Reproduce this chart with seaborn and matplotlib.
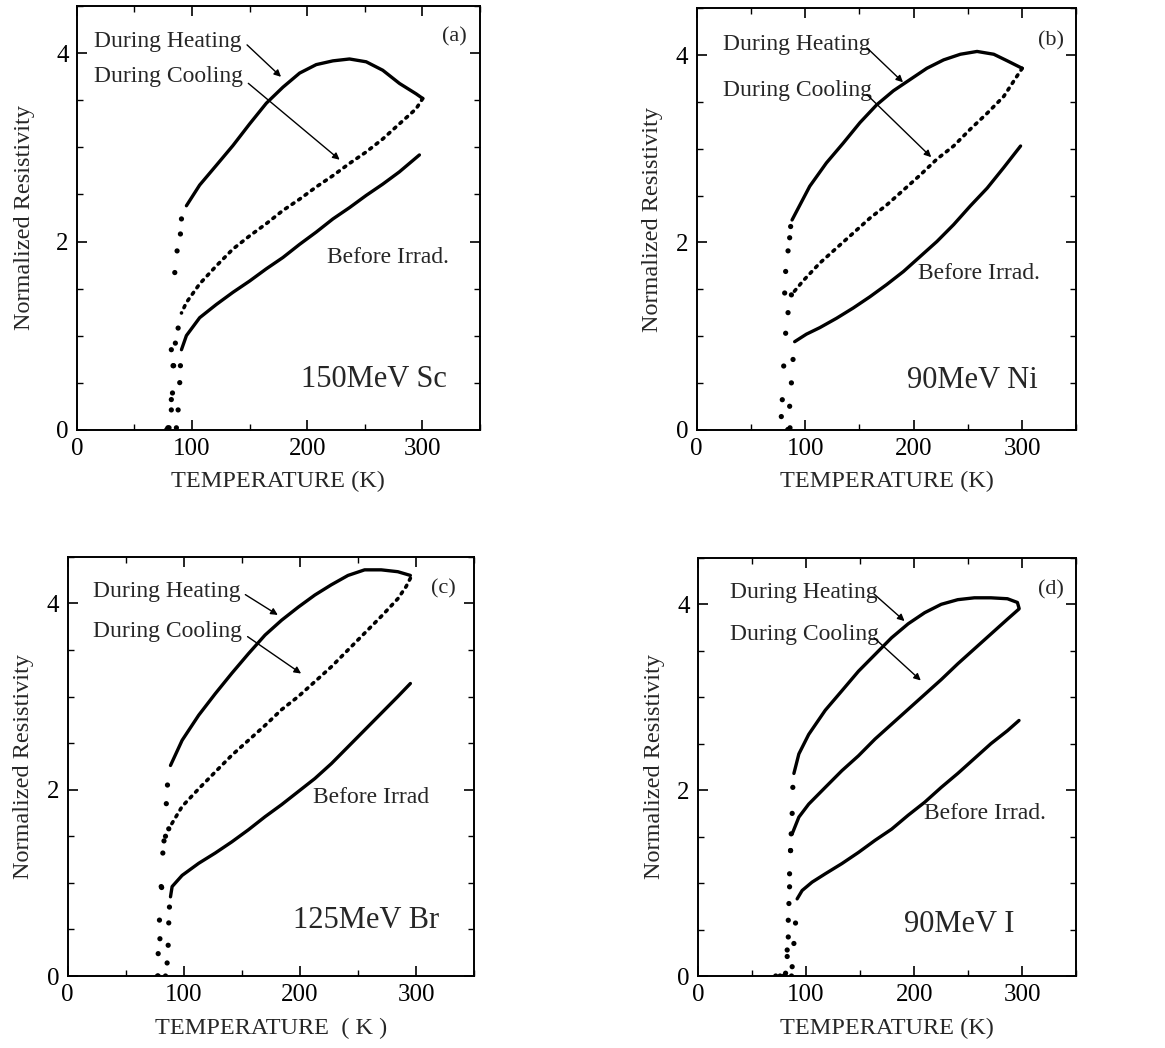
import numpy as np
import pandas as pd
import matplotlib
matplotlib.use("Agg")
import matplotlib.pyplot as plt
from matplotlib.ticker import MultipleLocator
import seaborn as sns

# ---------------- data ----------------
# Panel (a) 150MeV Sc
A_HEAT_T = [95.1, 106.6, 121.1, 135.5, 150.0, 164.5, 178.9, 193.4, 207.8, 222.3, 236.7, 251.2, 265.6, 280.1, 294.5, 300.3]
A_HEAT_R = [2.38, 2.60, 2.81, 3.02, 3.25, 3.47, 3.64, 3.79, 3.88, 3.92, 3.94, 3.91, 3.82, 3.68, 3.57, 3.52]
A_HEAT_TR_T = [78.0, 80.0, 82.0, 83.5, 85.0, 87.0, 89.9, 90.8]
A_HEAT_TR_R = [0.0, 0.02, 0.32, 0.68, 1.67, 1.90, 2.08, 2.24]
A_COOL_T = [300.3, 294.5, 280.0, 265.6, 251.0, 236.7, 222.3, 207.8, 193.4, 178.9, 164.5, 150.0, 135.5, 121.0, 106.6, 95.0, 90.8]
A_COOL_R = [3.52, 3.41, 3.25, 3.09, 2.95, 2.83, 2.70, 2.58, 2.45, 2.33, 2.19, 2.06, 1.92, 1.74, 1.55, 1.35, 1.24]
A_COOL_TR_T = [87.9, 85.5, 82.0, 84.0, 83.0, 82.0, 79.0]
A_COOL_TR_R = [1.08, 0.92, 0.85, 0.68, 0.39, 0.21, 0.02]
A_BEF_T = [297.4, 280.0, 265.6, 251.2, 236.7, 222.3, 207.8, 193.4, 178.9, 164.5, 150.0, 135.5, 121.0, 106.6, 95.1, 90.8]
A_BEF_R = [2.92, 2.74, 2.61, 2.49, 2.36, 2.24, 2.10, 1.97, 1.83, 1.71, 1.58, 1.46, 1.33, 1.19, 1.00, 0.85]
A_BEF_TR_T = [89.9, 89.3, 87.9, 86.4]
A_BEF_TR_R = [0.68, 0.50, 0.21, 0.02]

# Panel (b) 90MeV Ni
B_HEAT_T = [87.9, 104.2, 119.6, 135.0, 150.5, 165.9, 181.3, 196.7, 212.1, 227.6, 243.0, 258.4, 273.8, 286.2, 300.0]
B_HEAT_R = [2.24, 2.60, 2.85, 3.06, 3.28, 3.47, 3.62, 3.74, 3.86, 3.95, 4.01, 4.04, 4.01, 3.94, 3.86]
B_HEAT_TR_T = [84.0, 86.0, 81.1, 82.0, 84.2, 85.7, 86.6]
B_HEAT_TR_R = [0.0, 0.02, 1.46, 1.69, 1.91, 2.05, 2.17]
B_COOL_T = [300.0, 295.4, 283.0, 267.7, 252.2, 236.8, 221.4, 206.0, 190.6, 175.1, 159.7, 144.3, 128.9, 113.5, 98.1, 87.3]
B_COOL_R = [3.86, 3.78, 3.56, 3.38, 3.21, 3.03, 2.89, 2.72, 2.56, 2.40, 2.26, 2.10, 1.94, 1.78, 1.59, 1.44]
B_COOL_TR_T = [87.3, 84.2, 82.0, 80.2, 78.9, 78.0]
B_COOL_TR_R = [1.44, 1.25, 1.03, 0.68, 0.32, 0.14]
B_BEF_T = [298.5, 283.0, 267.7, 252.2, 236.8, 221.4, 206.0, 190.6, 175.1, 159.7, 144.3, 128.9, 113.5, 101.1, 90.3]
B_BEF_R = [3.03, 2.80, 2.58, 2.39, 2.19, 2.01, 1.85, 1.69, 1.55, 1.42, 1.30, 1.19, 1.09, 1.02, 0.94]
B_BEF_TR_T = [88.8, 87.3, 85.7, 84.2]
B_BEF_TR_R = [0.75, 0.50, 0.25, 0.0]

# Panel (c) 125MeV Br
C_HEAT_T = [88.6, 98.6, 112.9, 127.1, 141.4, 155.7, 170.0, 184.3, 198.6, 212.9, 227.1, 241.4, 255.7, 270.0, 284.3, 295.1]
C_HEAT_R = [2.26, 2.53, 2.80, 3.03, 3.25, 3.46, 3.66, 3.82, 3.96, 4.09, 4.20, 4.30, 4.36, 4.36, 4.34, 4.30]
C_HEAT_TR_T = [78.0, 79.5, 81.0, 83.0, 85.0, 86.0]
C_HEAT_TR_R = [0.0, 0.40, 0.95, 1.45, 1.85, 2.05]
C_COOL_T = [295.1, 291.4, 284.3, 270.0, 255.7, 241.4, 227.1, 212.9, 198.6, 184.3, 170.0, 155.7, 141.4, 127.1, 112.9, 98.6, 87.1]
C_COOL_R = [4.27, 4.18, 4.05, 3.86, 3.68, 3.50, 3.32, 3.16, 3.00, 2.86, 2.69, 2.53, 2.37, 2.19, 2.01, 1.82, 1.58]
C_COOL_TR_T = [87.1, 84.3, 82.0, 80.6, 79.1, 78.0, 77.4]
C_COOL_TR_R = [1.58, 1.50, 1.32, 0.96, 0.60, 0.24, 0.0]
C_BEF_T = [295.1, 284.3, 270.0, 255.7, 241.4, 227.1, 212.9, 198.6, 184.3, 170.0, 155.7, 141.4, 127.1, 112.9, 98.6, 90.0, 88.6]
C_BEF_R = [3.14, 3.00, 2.82, 2.64, 2.46, 2.28, 2.12, 1.98, 1.84, 1.71, 1.57, 1.44, 1.32, 1.21, 1.08, 0.96, 0.85]
C_BEF_TR_T = [87.7, 87.1, 86.6, 85.7, 84.3]
C_BEF_TR_R = [0.74, 0.57, 0.33, 0.14, 0.0]

# Panel (d) 90MeV I
D_HEAT_T = [88.8, 93.4, 102.5, 117.8, 133.2, 148.5, 163.8, 179.1, 194.4, 209.7, 225.0, 240.3, 255.6, 270.9, 286.2, 295.4, 296.9]
D_HEAT_R = [2.18, 2.39, 2.60, 2.86, 3.07, 3.28, 3.46, 3.64, 3.79, 3.91, 4.00, 4.05, 4.07, 4.07, 4.06, 4.02, 3.96]
D_HEAT_TR_T = [72.0, 76.0, 81.1, 82.6, 83.6, 84.2, 84.8, 85.7, 86.3, 87.2, 87.8]
D_HEAT_TR_R = [0.0, 0.0, 0.03, 0.21, 0.42, 0.78, 1.10, 1.35, 1.53, 1.75, 2.03]
D_COOL_T = [296.9, 286.2, 270.9, 255.6, 240.3, 225.0, 209.7, 194.4, 179.1, 163.8, 148.5, 133.2, 117.8, 102.5, 93.4, 87.2]
D_COOL_R = [3.95, 3.84, 3.68, 3.52, 3.36, 3.19, 3.03, 2.87, 2.71, 2.55, 2.37, 2.21, 2.03, 1.85, 1.71, 1.53]
D_COOL_TR_T = [85.7, 84.8, 83.6, 82.6, 79.6]
D_COOL_TR_R = [1.35, 0.96, 0.60, 0.28, 0.0]
D_BEF_T = [296.9, 286.2, 270.9, 255.6, 240.3, 225.0, 209.7, 194.4, 179.1, 163.8, 148.5, 133.2, 117.8, 105.6, 96.4, 91.8]
D_BEF_R = [2.75, 2.64, 2.50, 2.34, 2.18, 2.03, 1.87, 1.73, 1.58, 1.46, 1.33, 1.21, 1.10, 1.01, 0.92, 0.83]
D_BEF_TR_T = [90.3, 88.8, 87.2, 86.6]
D_BEF_TR_R = [0.57, 0.35, 0.10, 0.0]

PANEL_LABELS = ["(a)", "(b)", "(c)", "(d)"]
ION_LABELS = ["150MeV Sc", "90MeV Ni", "125MeV Br", "90MeV I"]
BEFORE_LABELS = ["Before Irrad.", "Before Irrad.", "Before Irrad", "Before Irrad."]
XLABELS = ["TEMPERATURE (K)", "TEMPERATURE (K)", "TEMPERATURE  ( K )", "TEMPERATURE (K)"]
YLABEL = "Normalized Resistivity"
X_TICKS = [0, 100, 200, 300]
Y_TICKS = [0, 2, 4]

# ---------------- figure ----------------
sns.set_theme(style="ticks")
plt.rcParams["font.family"] = ["Liberation Serif", "DejaVu Serif"]

fig = plt.figure(figsize=(11.65, 10.48), dpi=100)
ax_pos = [
    [0.066, 0.590, 0.346, 0.404],
    [0.598, 0.590, 0.326, 0.402],
    [0.058, 0.0687, 0.349, 0.400],
    [0.599, 0.0687, 0.325, 0.399],
]
YLABELPADS = [15, 9, 9, 9]

panels = [
    dict(heat=(A_HEAT_T, A_HEAT_R), heat_tr=(A_HEAT_TR_T, A_HEAT_TR_R),
         cool=(A_COOL_T, A_COOL_R), cool_tr=(A_COOL_TR_T, A_COOL_TR_R),
         bef=(A_BEF_T, A_BEF_R), bef_tr=(A_BEF_TR_T, A_BEF_TR_R), cool_dotted=True,
         txt_heat=(15, 4.13), arr_heat=((146, 4.11), (179, 3.73)),
         txt_cool=(15, 3.75), arr_cool=((147, 3.70), (230, 2.85)),
         txt_bef=(217, 1.83), txt_ion=(195, 0.53), txt_pan=(317, 4.18)),
    dict(heat=(B_HEAT_T, B_HEAT_R), heat_tr=(B_HEAT_TR_T, B_HEAT_TR_R),
         cool=(B_COOL_T, B_COOL_R), cool_tr=(B_COOL_TR_T, B_COOL_TR_R),
         bef=(B_BEF_T, B_BEF_R), bef_tr=(B_BEF_TR_T, B_BEF_TR_R), cool_dotted=True,
         txt_heat=(24, 4.11), arr_heat=((155, 4.10), (192, 3.69)),
         txt_cool=(24, 3.62), arr_cool=((155, 3.60), (218, 2.89)),
         txt_bef=(204, 1.67), txt_ion=(194, 0.52), txt_pan=(315, 4.15)),
    dict(heat=(C_HEAT_T, C_HEAT_R), heat_tr=(C_HEAT_TR_T, C_HEAT_TR_R),
         cool=(C_COOL_T, C_COOL_R), cool_tr=(C_COOL_TR_T, C_COOL_TR_R),
         bef=(C_BEF_T, C_BEF_R), bef_tr=(C_BEF_TR_T, C_BEF_TR_R), cool_dotted=True,
         txt_heat=(22, 4.13), arr_heat=((151, 4.11), (183, 3.86)),
         txt_cool=(22, 3.70), arr_cool=((153, 3.66), (203, 3.23)),
         txt_bef=(211, 1.92), txt_ion=(194, 0.60), txt_pan=(313, 4.16)),
    dict(heat=(D_HEAT_T, D_HEAT_R), heat_tr=(D_HEAT_TR_T, D_HEAT_TR_R),
         cool=(D_COOL_T, D_COOL_R), cool_tr=(D_COOL_TR_T, D_COOL_TR_R),
         bef=(D_BEF_T, D_BEF_R), bef_tr=(D_BEF_TR_T, D_BEF_TR_R), cool_dotted=False,
         txt_heat=(30, 4.13), arr_heat=((161, 4.13), (193, 3.80)),
         txt_cool=(30, 3.68), arr_cool=((161, 3.66), (208, 3.16)),
         txt_bef=(209, 1.75), txt_ion=(191, 0.55), txt_pan=(314, 4.16)),
]

for i, p in enumerate(panels):
    ax = fig.add_axes(ax_pos[i])
    for key in ["heat", "cool", "bef"]:
        t, r = p[key]
        df = pd.DataFrame({"T": t, "R": r})
        dotted = (key == "cool" and p["cool_dotted"])
        sns.lineplot(data=df, x="T", y="R", ax=ax, sort=False, estimator=None,
                     color="black", linewidth=2.6 if dotted else 2.4,
                     linestyle=(0, (0.6, 1.6)) if dotted else "-",
                     dash_capstyle="round", solid_capstyle="round",
                     solid_joinstyle="round")
        tt, rr = p[key + "_tr"]
        dft = pd.DataFrame({"T": tt, "R": rr})
        sns.scatterplot(data=dft, x="T", y="R", ax=ax, color="black", s=14,
                        edgecolor="none", marker="o")

    ax.set_xlim(0, 350)
    ax.set_ylim(0, 4.5)
    ax.set_xticks(X_TICKS)
    ax.set_yticks(Y_TICKS)
    ax.xaxis.set_minor_locator(MultipleLocator(50))
    ax.yaxis.set_minor_locator(MultipleLocator(0.5))
    ax.tick_params(which="both", direction="in", top=True, right=True,
                   labelsize=18, colors="black")
    ax.tick_params(which="major", length=7, width=1.2, pad=6)
    ax.tick_params(which="minor", length=4, width=1.0)
    for s in ax.spines.values():
        s.set_linewidth(1.4)
        s.set_color("black")
    ax.set_xlabel(XLABELS[i], fontsize=17.5, labelpad=8)
    ax.set_ylabel(YLABEL, fontsize=17.5, labelpad=YLABELPADS[i])

    ax.text(*p["txt_heat"], "During Heating", fontsize=17, va="center", ha="left")
    ax.text(*p["txt_cool"], "During Cooling", fontsize=17, va="center", ha="left")
    ax.annotate("", xy=p["arr_heat"][1], xytext=p["arr_heat"][0],
                arrowprops=dict(arrowstyle="-|>", color="black", lw=1.0, mutation_scale=10))
    ax.annotate("", xy=p["arr_cool"][1], xytext=p["arr_cool"][0],
                arrowprops=dict(arrowstyle="-|>", color="black", lw=1.0, mutation_scale=10))
    ax.text(*p["txt_bef"], BEFORE_LABELS[i], fontsize=17, va="center", ha="left")
    ax.text(*p["txt_ion"], ION_LABELS[i], fontsize=22, va="center", ha="left")
    ax.text(*p["txt_pan"], PANEL_LABELS[i], fontsize=16, va="center", ha="left")

fig.savefig("out.png", dpi=100, facecolor="white")
